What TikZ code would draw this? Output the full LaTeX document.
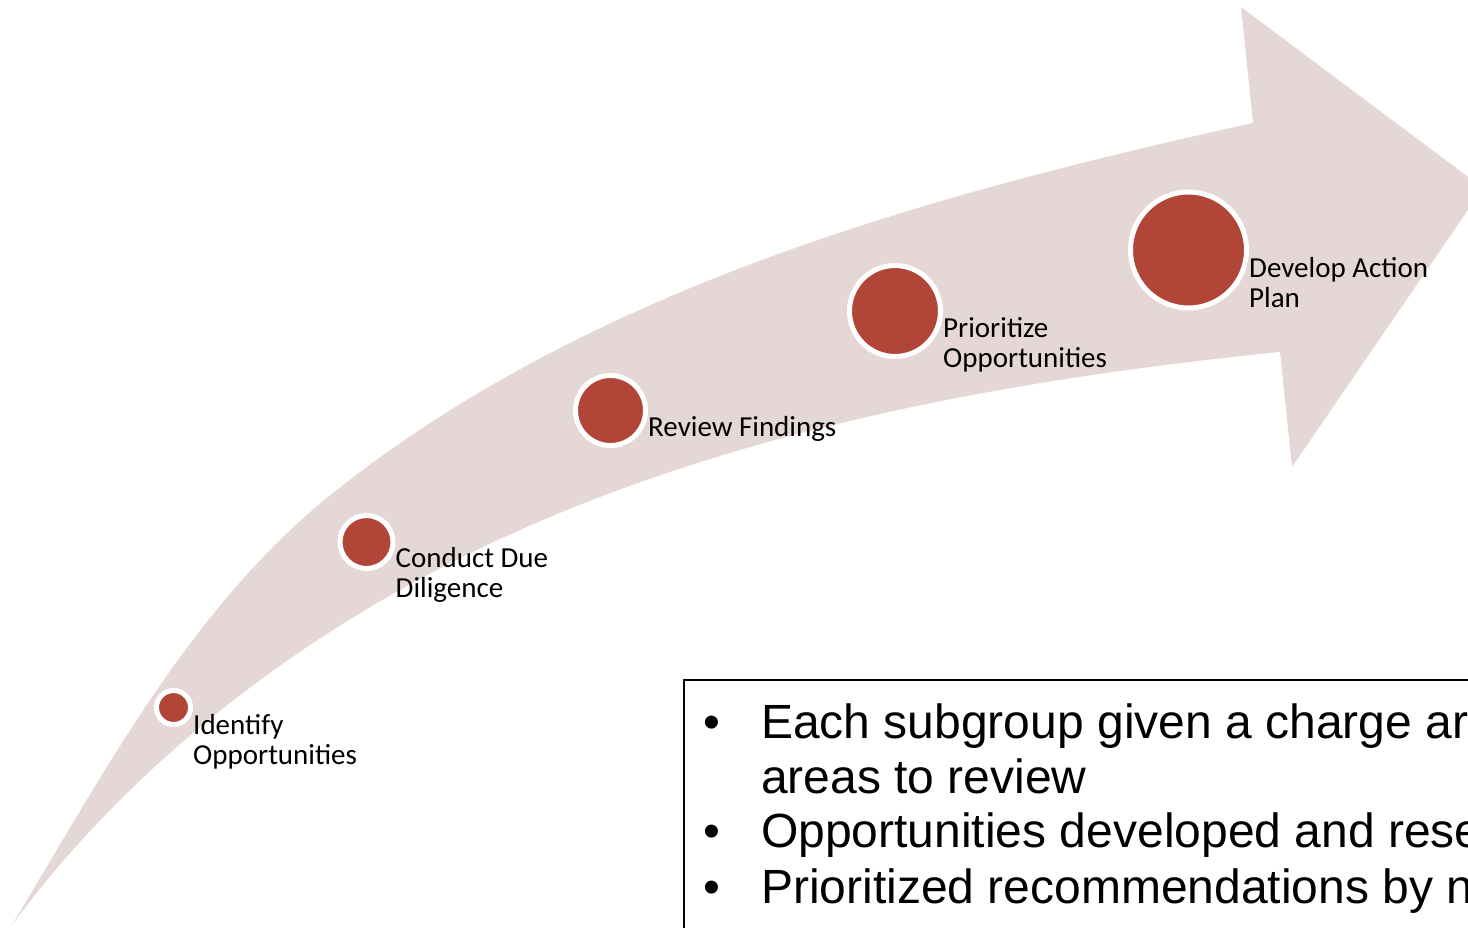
\documentclass[tikz,border=0pt]{standalone}
\usepackage{fontspec}
\setmainfont{Carlito}
\newfontfamily\listfont{Liberation Sans}
\usetikzlibrary{calc}
\definecolor{bandpink}{RGB}{230,215,215}
\definecolor{stepred}{RGB}{177,69,55}
\begin{document}
\begin{tikzpicture}[x=1pt,y=-1pt,
  dot/.style={circle, fill=stepred, draw=white, line width=5pt, inner sep=0pt},
  lbl/.style={anchor=base west, inner sep=0pt, font=\fontsize{29}{30}\selectfont},
  item/.style={anchor=base west, inner sep=0pt, font=\listfont\fontsize{48}{55}\selectfont},
  band/.style={fill=bandpink}]
\useasboundingbox (0,0) rectangle (1468,927);
\clip (0,0) rectangle (1468,927);

% curved arrow band: upper edge, head, lower edge
\fill[band] (12,925)
  .. controls (105,771) and (192,605.5) .. (333,493)
  .. controls (591,287) and (931,194) .. (1253,123)
  -- (1241,7) -- (1483,188) -- (1292,467) -- (1280,352)
  .. controls (952,385) and (611,452) .. (333,630)
  .. controls (211,708) and (98,808) .. (12,925)
  -- cycle;

% steps along the band
\node[dot, minimum size=34pt]  (c1) at (173.5,707.5) {};
\node[dot, minimum size=53pt]  (c2) at (366.5,542) {};
\node[dot, minimum size=70pt]  (c3) at (610.5,410.5) {};
\node[dot, minimum size=91pt]  (c4) at (895,311) {};
\node[dot, minimum size=116pt] (c5) at (1188.5,250) {};

\node[lbl] (t1) at ([yshift=-27pt]c1.east) {\parbox[t]{300pt}{Identify\\Opportunities}};
\node[lbl] (t2) at ([yshift=-25pt]c2.east) {\parbox[t]{300pt}{Conduct Due\\Diligence}};
\node[lbl] (t3) at ([yshift=-26pt]c3.east) {Review Findings};
\node[lbl] (t4) at ([yshift=-26pt]c4.east) {\parbox[t]{300pt}{Prioritize\\Opportunities}};
\node[lbl] (t5) at ([yshift=-27pt]c5.east) {\parbox[t]{300pt}{Develop Action\\Plan}};

% notes box
\draw[line width=2pt] (684,680) rectangle (1490,950);
\node[item] (b1) at (703,738) {\textbullet};
\node[item] (l1) at (761,738) {Each subgroup given a charge ar};
\node[item] (l1b) at (761,793) {areas to review};
\node[item] (b2) at (703,847) {\textbullet};
\node[item] (l2) at (761,847) {Opportunities developed and rese};
\node[item] (b3) at (703,903) {\textbullet};
\node[item] (l3) at (761,903) {Prioritized recommendations by n};
\end{tikzpicture}
\end{document}
